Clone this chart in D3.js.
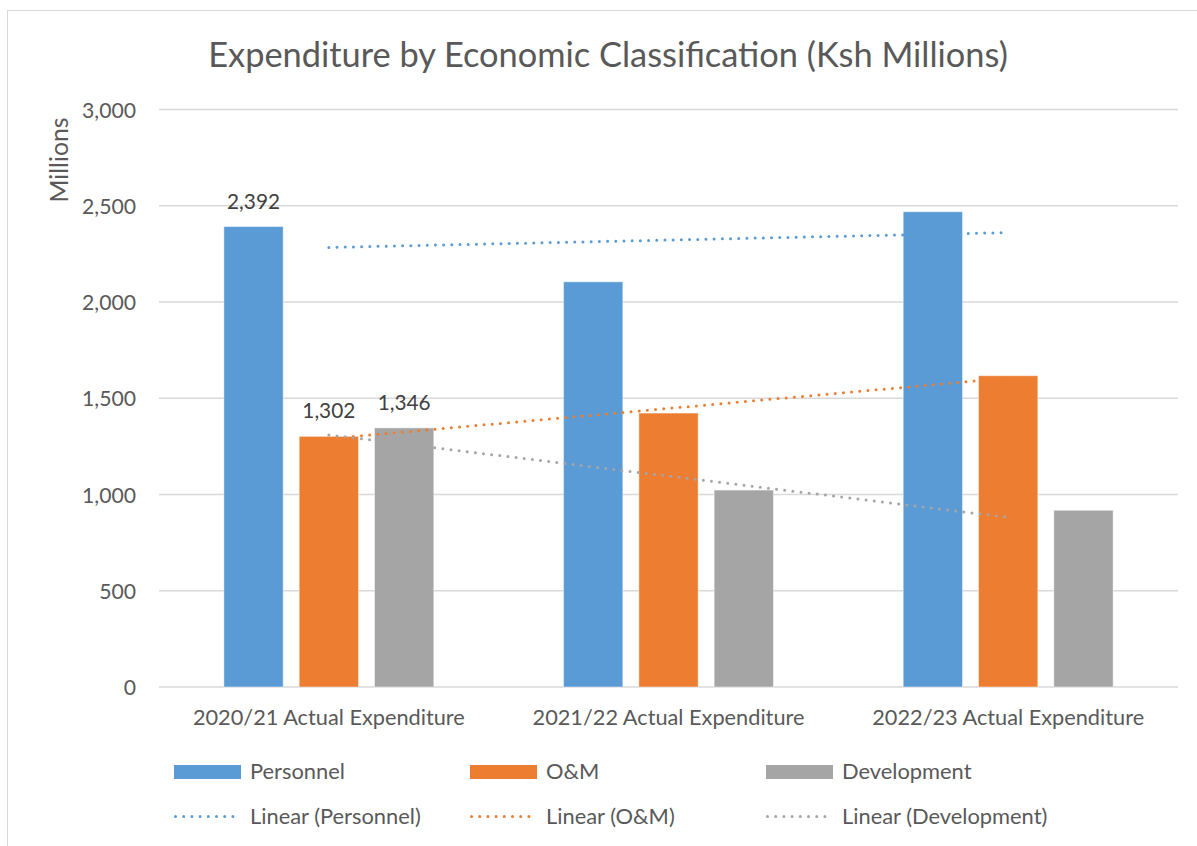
<!DOCTYPE html>
<html>
<head>
<meta charset="utf-8">
<script src="https://cdn.jsdelivr.net/npm/d3@7"></script>
<style>
  html, body { margin: 0; padding: 0; background: #fff; }
  svg { display: block; }
</style>
</head>
<body>
<svg id="chart" width="1197" height="846"></svg>
<script>
// Expenditure by economic classification, Ksh millions
const categories = ["2020/21 Actual Expenditure", "2021/22 Actual Expenditure", "2022/23 Actual Expenditure"];
const seriesNames = ["Personnel", "O&M", "Development"];
const personnel = [2392, 2105, 2469];
const om = [1302, 1423, 1617];
const development = [1346, 1023, 918];
const yTickValues = [0, 500, 1000, 1500, 2000, 2500, 3000];
const labelledCategory = "2020/21 Actual Expenditure";

const colors = { "Personnel": "#5B9BD5", "O&M": "#ED7D31", "Development": "#A5A5A5" };
const seriesValues = { "Personnel": personnel, "O&M": om, "Development": development };

const FONT = "Lato, 'Open Sans', sans-serif";
const TEXT = "#595959";

const svg = d3.select("#chart");

// size a font so a sample string reaches a given width
function fitSize(str, targetWidth) {
  const t = svg.append("text").style("font-family", FONT).style("font-size", "100px").text(str);
  const w = t.node().getComputedTextLength();
  t.remove();
  return 100 * targetWidth / w;
}
const titleSize = fitSize("Expenditure by Economic Classification (Ksh Millions)", 800);
const tickSize = fitSize("3,000", 54);
const catSize = fitSize("2020/21 Actual Expenditure", 272);
const legendSize = fitSize("Personnel", 95);
const axisTitleSize = fitSize("Millions", 85);
const dataLabelSize = fitSize("2,392", 53);

// chart frame
svg.append("rect")
  .attr("x", 7.5).attr("y", 10.5)
  .attr("width", 1200).attr("height", 850)
  .attr("fill", "#fff").attr("stroke", "#d9d9d9").attr("stroke-width", 1);

const plot = { left: 159, right: 1178, top: 109.5, bottom: 687 };

const x0 = d3.scaleBand().domain(categories).range([plot.left, plot.right]).padding(0);
const groupWidth = x0.bandwidth() * 0.618;
const x1 = d3.scaleBand().domain(seriesNames)
  .range([(x0.bandwidth() - groupWidth) / 2, (x0.bandwidth() + groupWidth) / 2])
  .paddingInner(0.2125).paddingOuter(0);
const y = d3.scaleLinear().domain([0, 3000]).range([plot.bottom, plot.top]);

// gridlines
svg.append("g").selectAll("line").data(yTickValues).join("line")
  .attr("x1", plot.left).attr("x2", plot.right)
  .attr("y1", d => y(d)).attr("y2", d => y(d))
  .attr("stroke", "#d9d9d9").attr("stroke-width", 1.3);

// y axis labels
const yAxis = d3.axisLeft(y).tickValues(yTickValues).tickFormat(d3.format(",")).tickSize(0).tickPadding(0);
const yg = svg.append("g").attr("transform", `translate(136,0)`).call(yAxis);
yg.select(".domain").remove();
yg.selectAll("text")
  .style("font-family", FONT).style("font-size", tickSize + "px").attr("fill", TEXT)
  .attr("dy", "0.36em");

// category labels
const xAxis = d3.axisBottom(x0).tickSize(0).tickPadding(0);
const xg = svg.append("g").attr("transform", `translate(0,${plot.bottom})`).call(xAxis);
xg.select(".domain").remove();
xg.selectAll("text")
  .style("font-family", FONT).style("font-size", catSize + "px").attr("fill", TEXT)
  .attr("dy", null).attr("y", 38);

// bars
const rows = categories.map((c, i) => ({
  category: c,
  items: seriesNames.map(s => ({ series: s, value: seriesValues[s][i], category: c }))
}));
const groups = svg.append("g").selectAll("g").data(rows).join("g")
  .attr("transform", d => `translate(${x0(d.category)},0)`);
groups.selectAll("rect").data(d => d.items).join("rect")
  .attr("x", d => x1(d.series))
  .attr("width", x1.bandwidth())
  .attr("y", d => y(d.value))
  .attr("height", d => y(0) - y(d.value))
  .attr("fill", d => colors[d.series])
  .attr("stroke", "#fff").attr("stroke-opacity", 0.45).attr("stroke-width", 1);

// data labels on the first year
groups.filter(d => d.category === labelledCategory)
  .selectAll("text.value").data(d => d.items).join("text")
  .attr("class", "value")
  .attr("x", d => x1(d.series) + x1.bandwidth() / 2)
  .attr("y", d => y(d.value) - 18)
  .attr("text-anchor", "middle")
  .style("font-family", FONT).style("font-size", dataLabelSize + "px")
  .attr("fill", "#404040")
  .text(d => d3.format(",")(d.value));

// linear trendlines (least squares over category index 1..n)
function linearFit(values) {
  const n = values.length;
  const xs = values.map((_, i) => i + 1);
  const mx = d3.mean(xs), my = d3.mean(values);
  const slope = d3.sum(xs, (xv, i) => (xv - mx) * (values[i] - my)) / d3.sum(xs, xv => (xv - mx) ** 2);
  const intercept = my - slope * mx;
  return xs.map(xv => intercept + slope * xv);
}
const centerX = c => x0(c) + x0.bandwidth() / 2;
const trendLine = d3.line().x((d, i) => centerX(categories[i])).y(d => y(d));
seriesNames.forEach(s => {
  const fitted = linearFit(seriesValues[s]);
  svg.append("path")
    .datum([fitted[0], fitted[fitted.length - 1]])
    .attr("d", d3.line().x((d, i) => centerX(categories[i === 0 ? 0 : categories.length - 1])).y(d => y(d)))
    .attr("fill", "none")
    .attr("stroke", colors[s])
    .attr("stroke-width", 3)
    .attr("stroke-linecap", "round")
    .attr("stroke-dasharray", "0 8.2");
});

// title
svg.append("text")
  .attr("x", 608).attr("y", 67)
  .attr("text-anchor", "middle")
  .style("font-family", FONT).style("font-size", titleSize + "px")
  .attr("fill", TEXT)
  .text("Expenditure by Economic Classification (Ksh Millions)");

// y axis title
svg.append("text")
  .attr("transform", "translate(68,160) rotate(-90)")
  .attr("text-anchor", "middle")
  .style("font-family", FONT).style("font-size", axisTitleSize + "px")
  .attr("fill", TEXT)
  .text("Millions");

// legend
const legendX = [174, 470, 766];
const legend = svg.append("g");
seriesNames.forEach((s, i) => {
  legend.append("rect")
    .attr("x", legendX[i]).attr("y", 765)
    .attr("width", 67).attr("height", 14)
    .attr("fill", colors[s]);
  legend.append("text")
    .attr("x", legendX[i] + 76).attr("y", 779)
    .style("font-family", FONT).style("font-size", legendSize + "px")
    .attr("fill", TEXT).text(s);
  legend.append("line")
    .attr("x1", legendX[i] + 1.5).attr("x2", legendX[i] + 67)
    .attr("y1", 816.5).attr("y2", 816.5)
    .attr("stroke", colors[s]).attr("stroke-width", 3)
    .attr("stroke-linecap", "round").attr("stroke-dasharray", "0 8.2");
  legend.append("text")
    .attr("x", legendX[i] + 76).attr("y", 824)
    .style("font-family", FONT).style("font-size", legendSize + "px")
    .attr("fill", TEXT).text(`Linear (${s})`);
});
</script>
</body>
</html>
